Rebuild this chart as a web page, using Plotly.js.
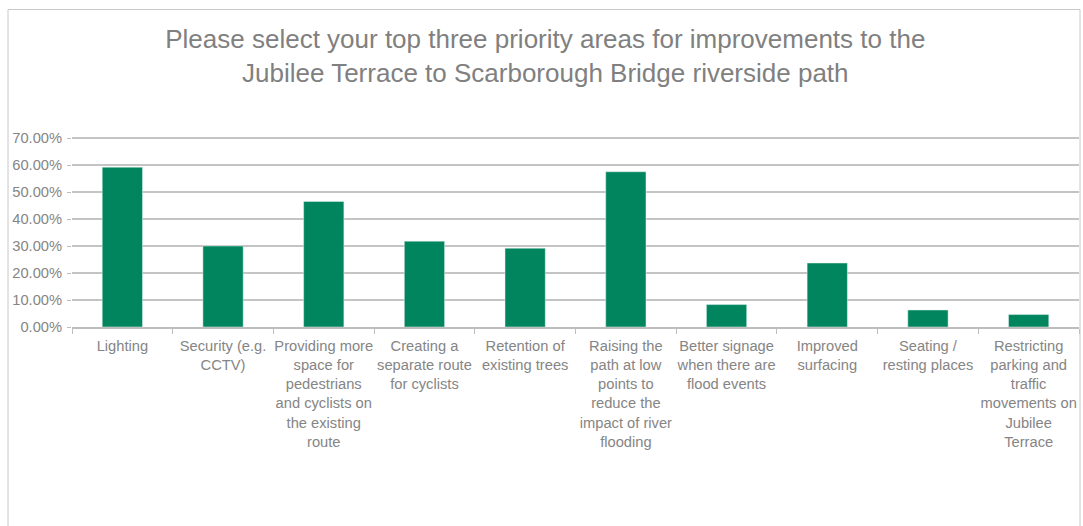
<!DOCTYPE html>
<html>
<head>
<meta charset="utf-8">
<script src="https://cdn.plot.ly/plotly-3.0.1.min.js"></script>
<style>
html,body{margin:0;padding:0;background:#fff;}
#chart{width:1083px;height:526px;}
</style>
</head>
<body>
<div id="chart"></div>
<script>
const categories = [
  "Lighting",
  "Security (e.g.<br>CCTV)",
  "Providing more<br>space for<br>pedestrians<br>and cyclists on<br>the existing<br>route",
  "Creating a<br>separate route<br>for cyclists",
  "Retention of<br>existing trees",
  "Raising the<br>path at low<br>points to<br>reduce the<br>impact of river<br>flooding",
  "Better signage<br>when there are<br>flood events",
  "Improved<br>surfacing",
  "Seating /<br>resting places",
  "Restricting<br>parking and<br>traffic<br>movements on<br>Jubilee<br>Terrace"
];
const values = [0.592, 0.300, 0.465, 0.318, 0.292, 0.575, 0.083, 0.237, 0.063, 0.046];
const yTickValues = [0, 0.1, 0.2, 0.3, 0.4, 0.5, 0.6, 0.7];

const grey = "#858585";
const lineGrey = "#bdbdbd";

const trace = {
  type: "bar",
  x: categories,
  y: values,
  marker: {color: "#00855f", line: {color: "#e6f2ee", width: 0.5}},
  hoverinfo: "x+y"
};

const plotH = 193;

const layout = {
  width: 1083,
  height: 526,
  margin: {l: 72, r: 4, t: 134, b: 199},
  paper_bgcolor: "#ffffff",
  plot_bgcolor: "#ffffff",
  font: {family: "Liberation Sans, Arial, sans-serif", size: 14.7, color: grey},
  showlegend: false,
  bargap: 0.6,
  title: {
    text: "Please select your top three priority areas for improvements to the<br>Jubilee Terrace to Scarborough Bridge riverside path",
    font: {family: "Liberation Sans, Arial, sans-serif", size: 26, color: "#808080"},
    x: 0.47,
    xanchor: "center",
    xref: "paper",
    y: 1 - 48/526,
    yref: "container",
    yanchor: "top"
  },
  xaxis: {
    type: "category",
    tickangle: 0,
    ticks: "outside",
    tickson: "boundaries",
    ticklen: 5,
    tickcolor: lineGrey,
    showline: true,
    linecolor: lineGrey,
    linewidth: 1.5,
    showgrid: false,
    zeroline: false,
    ticklabelstandoff: 5,
    tickfont: {size: 14.7, color: grey},
    automargin: false
  },
  yaxis: {
    range: [0, plotH/270],
    tickvals: yTickValues,
    tickformat: ".2%",
    ticks: "outside",
    ticklen: 4,
    tickcolor: lineGrey,
    showline: false,
    showgrid: true,
    gridcolor: "#c4c4c4",
    gridwidth: 2,
    zeroline: false,
    ticklabelstandoff: 2,
    tickfont: {size: 14.7, color: grey},
    automargin: false
  },
  shapes: [{
    type: "rect",
    xref: "paper", yref: "paper",
    x0: (8 - 72) / 1007, x1: (1080 - 72) / 1007,
    y0: -2, y1: (327 - 9.5) / plotH,
    line: {color: "#c8c8c8", width: 1},
    fillcolor: "rgba(0,0,0,0)",
    layer: "below"
  }]
};

Plotly.newPlot("chart", [trace], layout, {displayModeBar: false, staticPlot: true});
</script>
</body>
</html>
